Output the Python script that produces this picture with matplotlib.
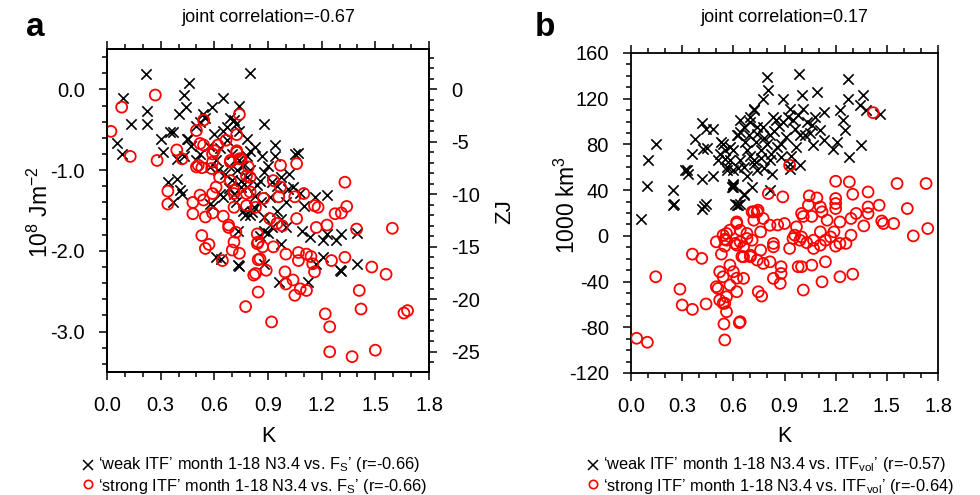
import matplotlib
matplotlib.use("Agg")
import matplotlib.pyplot as plt
from matplotlib.lines import Line2D
from matplotlib.ticker import MultipleLocator, FormatStrFormatter
import numpy as np

plt.rcParams['font.family'] = ['Liberation Sans', 'DejaVu Sans']
plt.rcParams['mathtext.fontset'] = 'custom'
plt.rcParams['mathtext.rm'] = 'Liberation Sans'
plt.rcParams['mathtext.it'] = 'Liberation Sans:italic'
plt.rcParams['axes.unicode_minus'] = False

# ---------------- data ----------------
# panel a : weak ITF (black x) -- K vs F_S (1e8 J m-2)
weak_a = [
    (0.22, 0.19), (0.80, 0.20), (0.46, 0.08), (0.09, -0.11), (0.225, -0.27), (0.225, -0.43),
    (0.134, -0.43), (0.43, -0.07), (0.44, -0.22), (0.40, -0.30), (0.65, -0.11), (0.585, -0.22),
    (0.74, -0.20), (0.535, -0.30), (0.52, -0.40), (0.69, -0.36), (0.054, -0.67), (0.082, -0.80),
    (0.30, -0.62), (0.35, -0.53), (0.37, -0.53), (0.445, -0.61), (0.315, -0.78), (0.39, -0.86),
    (0.34, -1.15), (0.39, -1.11), (0.42, -1.29), (0.37, -1.40), (0.65, -0.51), (0.71, -0.38),
    (0.74, -0.51), (0.67, -0.63), (0.52, -0.80), (0.50, -0.88), (0.61, -0.88), (0.74, -0.88),
    (0.80, -0.76), (0.725, -1.00), (0.78, -1.09), (0.75, -1.21), (0.71, -1.29), (0.575, -1.42),
    (0.82, -1.46), (0.77, -1.56), (0.61, -2.07), (0.74, -2.19), (0.73, -1.75), (0.81, -1.52),
    (0.59, -1.44), (0.88, -0.43), (0.55, -0.36), (0.67, -0.47), (0.72, -0.43), (0.455, -0.61),
    (0.43, -0.82), (0.83, -0.71), (0.78, -0.82), (0.865, -0.82), (0.94, -0.69), (0.94, -0.82),
    (1.05, -0.80), (1.07, -0.79), (0.575, -0.96), (0.75, -1.13), (0.78, -1.21), (0.88, -1.02),
    (0.855, -1.13), (0.92, -1.15), (0.97, -1.09), (1.01, -1.23), (1.04, -1.21), (0.41, -1.25),
    (0.65, -1.33), (0.76, -1.50), (0.80, -1.56), (0.91, -1.33), (0.95, -1.50), (0.97, -1.60),
    (1.00, -1.71), (1.16, -1.33), (1.23, -1.31), (1.09, -1.75), (1.135, -1.83), (1.21, -1.87),
    (1.28, -1.87), (1.31, -1.79), (1.23, -1.79), (0.875, -1.75), (0.855, -1.81), (0.90, -1.78),
    (0.97, -1.91), (0.875, -2.16), (0.735, -2.18), (0.64, -2.10), (1.21, -2.08), (1.30, -2.24),
    (1.31, -2.25), (1.395, -2.16), (1.125, -2.39), (0.96, -2.39), (1.17, -2.16), (1.40, -1.78),
    (0.84, -1.18), (0.70, -1.12), (0.68, -0.95), (0.63, -0.72), (0.90, -0.95), (1.00, -1.40),
    (1.08, -1.28), (0.60, -0.55), (0.57, -0.70), (0.62, -1.00), (0.66, -1.05), (0.70, -0.80),
    (0.76, -0.95), (0.80, -1.00), (0.83, -1.32), (0.86, -1.40), (0.72, -1.40), (0.68, -1.22),
    (0.63, -1.30), (0.95, -1.20), (1.02, -1.05), (1.10, -1.45), (0.88, -1.58), (0.92, -1.70),
    (0.78, -0.62), (0.50, -0.45), (0.47, -0.70),
]
# panel a : strong ITF (red o)
strong_a = [
    (0.022, -0.52), (0.082, -0.22), (0.27, -0.07), (0.13, -0.83), (0.28, -0.88), (0.39, -0.75),
    (0.42, -0.86), (0.54, -0.38), (0.50, -0.51), (0.74, -0.31), (0.725, -0.56), (0.665, -0.63),
    (0.54, -0.69), (0.59, -0.80), (0.62, -0.69), (0.50, -0.96), (0.53, -0.97), (0.585, -0.98),
    (0.69, -0.88), (0.725, -0.78), (0.75, -0.86), (0.63, -1.09), (0.79, -0.96), (0.80, -1.09),
    (0.71, -1.29), (0.78, -1.29), (0.61, -1.21), (0.59, -1.29), (0.52, -1.31), (0.54, -1.37),
    (0.48, -1.40), (0.34, -1.26), (0.34, -1.42), (0.48, -1.54), (0.55, -1.58), (0.59, -1.53),
    (0.65, -1.57), (0.71, -1.46), (0.68, -1.68), (0.53, -1.81), (0.57, -1.92), (0.55, -1.97),
    (0.645, -2.12), (0.68, -1.71), (0.71, -1.89), (0.70, -1.99), (0.74, -2.03), (0.72, -1.77),
    (0.84, -1.79), (0.84, -1.91), (0.845, -2.11), (0.82, -2.30), (0.845, -2.51), (0.775, -2.69),
    (0.52, -0.67), (0.60, -0.76), (0.725, -0.76), (0.51, -0.94), (0.59, -0.90), (0.69, -0.90),
    (0.74, -0.86), (0.97, -0.94), (1.06, -0.92), (0.69, -1.13), (0.78, -1.07), (0.71, -1.25),
    (0.80, -1.27), (0.875, -1.35), (0.93, -1.13), (0.97, -1.21), (0.96, -1.33), (1.05, -1.33),
    (1.10, -1.29), (1.33, -1.15), (0.78, -1.44), (0.83, -1.46), (0.91, -1.60), (0.95, -1.66),
    (0.98, -1.69), (1.06, -1.60), (1.16, -1.44), (1.18, -1.46), (1.275, -1.54), (1.31, -1.53),
    (1.34, -1.45), (1.395, -1.73), (1.23, -1.68), (1.17, -1.71), (0.845, -1.89), (0.87, -1.95),
    (0.93, -1.95), (1.00, -2.04), (1.07, -2.02), (1.07, -2.12), (1.115, -2.04), (1.14, -2.07),
    (1.15, -2.16), (1.16, -2.26), (1.255, -2.12), (1.33, -2.08), (0.855, -2.10), (0.89, -2.24),
    (0.83, -2.28), (0.995, -2.26), (1.04, -2.36), (1.00, -2.41), (1.08, -2.47), (1.115, -2.49),
    (1.05, -2.55), (0.92, -2.88), (1.41, -2.49), (1.42, -2.72), (1.48, -2.20), (1.22, -2.78),
    (1.245, -2.94), (1.245, -3.25), (1.37, -3.31), (1.50, -3.23), (1.595, -1.72), (1.56, -2.29),
    (1.66, -2.77), (1.68, -2.74),
]
# panel b : weak ITF (black x) -- K vs ITF_vol (1000 km3)
weak_b = [
    (0.057, 14.6), (0.096, 43.4), (0.10, 66.1), (0.147, 80.7), (0.244, 40.5), (0.244, 26.8),
    (0.25, 28.0), (0.317, 57.4), (0.336, 54.5), (0.33, 58.0), (0.36, 72.0), (0.375, 85.0),
    (0.415, 98.7), (0.44, 93.8), (0.48, 93.8), (0.424, 76.3), (0.445, 77.0), (0.415, 50.1),
    (0.415, 23.9), (0.44, 28.3), (0.43, 26.0), (0.48, 52.1), (0.53, 82.1), (0.55, 74.9),
    (0.58, 77.7), (0.51, 66.1), (0.56, 60.3), (0.60, 57.4), (0.62, 88.0), (0.64, 90.8),
    (0.67, 82.1), (0.70, 104.0), (0.72, 111.3), (0.74, 95.2), (0.68, 74.9), (0.72, 66.1),
    (0.60, 45.8), (0.60, 43.0), (0.66, 35.5), (0.62, 26.8), (0.64, 27.5), (0.71, 42.8),
    (0.59, 42.8), (0.795, 138.9), (0.985, 141.2), (1.27, 136.9), (1.36, 123.5), (1.09, 125.8),
    (1.00, 123.5), (0.805, 127.3), (0.775, 120.0), (0.89, 120.0), (1.27, 120.0), (1.34, 114.2),
    (1.38, 109.8), (1.46, 106.9), (1.225, 109.8), (1.13, 108.3), (1.01, 111.3), (0.93, 111.3),
    (0.835, 104.0), (0.85, 101.0), (0.72, 109.8), (0.64, 101.0), (0.70, 99.6), (0.775, 95.2),
    (0.89, 99.6), (0.96, 93.8), (1.03, 99.6), (1.06, 97.0), (1.11, 92.3), (1.245, 101.0),
    (1.255, 92.3), (1.205, 82.1), (1.185, 76.3), (1.07, 79.2), (1.13, 83.6), (1.35, 79.2),
    (1.28, 69.0), (0.99, 88.0), (0.91, 86.5), (0.815, 88.0), (0.74, 89.4), (0.63, 88.0),
    (0.54, 80.7), (0.60, 74.9), (0.76, 74.9), (0.855, 77.7), (0.97, 77.7), (0.55, 67.6),
    (0.64, 66.1), (0.72, 63.2), (0.815, 66.1), (0.88, 69.0), (0.99, 61.8), (0.56, 57.4),
    (0.66, 60.3), (0.74, 57.4), (0.825, 54.5), (0.93, 58.9), (0.60, 44.3), (0.66, 37.0),
    (0.815, 39.9), (0.61, 28.3), (0.63, 27.0), (0.93, 63.0), (0.66, 95.0), (0.69, 88.0),
    (0.73, 82.0), (0.78, 86.0), (0.80, 80.0), (0.84, 92.0), (0.87, 96.0), (0.92, 104.0),
    (0.95, 101.0), (0.98, 106.0), (1.02, 88.0), (1.05, 90.0), (1.08, 104.0), (0.70, 70.0),
    (0.76, 68.0), (0.82, 72.0), (0.88, 80.0), (0.94, 70.0), (0.68, 52.0), (0.58, 66.0),
    (0.52, 72.0), (0.63, 59.0), (0.78, 59.0),
]
# panel b : strong ITF (red o)
strong_b = [
    (1.42, 107.8), (0.93, 61.8), (1.20, 47.8), (1.28, 47.2), (1.56, 45.8), (1.73, 45.8),
    (0.805, 37.0), (0.89, 34.1), (1.045, 35.0), (1.09, 33.2), (1.20, 32.7), (1.20, 28.3),
    (1.20, 23.9), (1.30, 36.4), (1.39, 38.4), (1.39, 25.3), (1.39, 19.6), (1.455, 26.8),
    (1.62, 23.9), (1.74, 6.4), (1.655, 0.0), (1.54, 10.8), (1.48, 10.8), (1.47, 13.0),
    (1.365, 8.7), (1.32, 19.6), (1.29, 15.2), (1.225, 12.2), (1.15, 13.7), (1.12, 21.0),
    (1.11, 25.3), (1.04, 26.8), (1.00, 19.6), (1.01, 17.0), (1.06, 17.0), (0.97, 7.9),
    (0.90, 10.8), (0.86, 9.5), (0.815, 9.3), (0.775, 15.2), (0.72, 21.0), (0.745, 22.5),
    (0.72, 13.7), (0.62, 10.8), (0.56, 2.1), (0.61, -6.6), (0.76, 3.5), (0.835, -6.6),
    (0.95, -2.3), (1.00, -1.0), (1.11, 3.5), (1.19, 3.5), (1.07, -3.8), (1.26, -6.6),
    (1.29, 0.6), (1.225, -6.6), (1.20, -9.0), (1.11, -8.1), (1.14, -3.8), (1.17, -0.9),
    (1.07, -11.0), (1.03, -6.0), (0.99, -3.8), (0.96, 0.6), (0.93, -11.0), (0.835, -9.6),
    (0.76, -12.5), (0.71, -3.8), (0.68, -2.3), (0.64, 5.0), (0.58, 5.0), (0.56, -3.8),
    (0.55, -9.0), (0.62, -8.1), (0.66, -18.3), (0.70, -16.9), (0.74, -21.2), (0.775, -24.1),
    (0.815, -22.7), (0.88, -27.0), (0.98, -27.0), (1.00, -27.0), (1.06, -25.6), (1.14, -22.7),
    (0.835, -37.2), (0.88, -32.9), (0.875, -41.6), (1.01, -47.4), (1.12, -40.2), (1.225, -35.8),
    (1.30, -33.5), (0.746, -48.9), (0.766, -52.7), (0.66, -37.2), (0.62, -48.9), (0.56, -53.3),
    (0.55, -59.0), (0.56, -66.4), (0.635, -76.0), (0.545, -77.1), (0.55, -91.1), (0.033, -89.6),
    (0.096, -93.1), (0.145, -35.8), (0.36, -16.0), (0.415, -19.7), (0.287, -46.6), (0.30, -60.5),
    (0.36, -64.3), (0.44, -59.6), (0.50, -5.2), (0.53, -16.0), (0.54, 0.6), (0.55, -3.0),
    (0.50, -44.5), (0.51, -46.0), (0.52, -31.4), (0.54, -35.8), (0.58, -25.6), (0.60, -31.4),
    (0.58, -43.0), (0.62, -37.0), (0.52, -56.2), (0.54, -59.0), (0.64, -75.1), (0.62, 12.2),
    (0.68, 2.1), (0.66, -9.6), (0.65, -18.0), (0.70, -18.3), (0.71, 21.0), (0.74, 21.0),
    (0.64, -5.2),
]

titles = ["joint correlation=-0.67", "joint correlation=0.17"]
panel_letters = ["a", "b"]
legend_a = ["\u2018weak ITF\u2019 month 1-18 N3.4 vs. F$_\\mathrm{S}$\u2019 (r=-0.66)",
            "\u2018strong ITF\u2019 month 1-18 N3.4 vs. F$_\\mathrm{S}$\u2019 (r=-0.66)"]
legend_b = ["\u2018weak ITF\u2019 month 1-18 N3.4 vs. ITF$_\\mathrm{vol}$\u2019 (r=-0.57)",
            "\u2018strong ITF\u2019 month 1-18 N3.4 vs. ITF$_\\mathrm{vol}$\u2019 (r=-0.64)"]
ZJ_PER_UNIT = 7.69   # conversion 1e8 J m-2 -> ZJ

# ---------------- figure ----------------
W, H = 980, 495
fig = plt.figure(figsize=(W / 100, H / 100), dpi=100)


def rect(l, t, r, b):
    return [l / W, 1 - b / H, (r - l) / W, (b - t) / H]


def fpos(x, y):
    return x / W, 1 - y / H


axa = fig.add_axes(rect(107, 49, 429, 372))
axb = fig.add_axes(rect(631, 53, 938, 373))

ms_x = 55
ms_o = 62


def style(ax):
    for s in ax.spines.values():
        s.set_linewidth(1.3)
    ax.tick_params(which='both', direction='out', width=1.1, top=True, right=False,
                   labelsize=14.5, pad=10)
    ax.tick_params(which='major', length=6)
    ax.tick_params(which='minor', length=3.5)
    ax.xaxis.set_major_locator(MultipleLocator(0.3))
    ax.xaxis.set_minor_locator(MultipleLocator(0.1))
    ax.xaxis.set_major_formatter(FormatStrFormatter('%.1f'))
    ax.tick_params(axis='x', pad=11)
    ax.set_xlim(0, 1.8)


for ax, weak, strong in [(axa, weak_a, strong_a), (axb, weak_b, strong_b)]:
    wk = np.array(weak)
    st = np.array(strong)
    ax.scatter(wk[:, 0], wk[:, 1], marker='x', s=ms_x, c='black', linewidths=1.2, zorder=2)
    ax.scatter(st[:, 0], st[:, 1], marker='o', s=ms_o, facecolors='none',
               edgecolors='#ff0000', linewidths=1.3, zorder=3)
    style(ax)

axa.set_ylim(-3.5, 0.5)
axa.yaxis.set_major_locator(MultipleLocator(1.0))
axa.yaxis.set_minor_locator(MultipleLocator(0.2))
axa.yaxis.set_major_formatter(FormatStrFormatter('%.1f'))

axr = axa.twinx()
axr.set_ylim(-3.5 * ZJ_PER_UNIT, 0.5 * ZJ_PER_UNIT)
axr.yaxis.set_major_locator(MultipleLocator(5))
axr.yaxis.set_minor_locator(MultipleLocator(1))
axr.tick_params(which='both', direction='out', width=1.1, labelsize=14.5, pad=10)
axr.tick_params(which='major', length=6)
axr.tick_params(which='minor', length=3.5)
for s in axr.spines.values():
    s.set_linewidth(1.3)

axb.set_ylim(-120, 160)
axb.yaxis.set_major_locator(MultipleLocator(40))
axb.yaxis.set_minor_locator(MultipleLocator(10))
axb.yaxis.set_major_formatter(FormatStrFormatter('%d'))

# ---------------- texts ----------------
fig.text(*fpos(268, 18), titles[0], ha='center', va='center', fontsize=13)
fig.text(*fpos(784, 18), titles[1], ha='center', va='center', fontsize=13)
fig.text(*fpos(35, 28), panel_letters[0], ha='center', va='center', fontsize=24, fontweight='bold')
fig.text(*fpos(545, 28), panel_letters[1], ha='center', va='center', fontsize=24, fontweight='bold')

fig.text(*fpos(40, 212), "10$^{8}$ Jm$^{-2}$", rotation=90, ha='center', va='center', fontsize=16.5)
fig.text(*fpos(505, 212), "ZJ", rotation=90, ha='center', va='center', fontsize=16)
fig.text(*fpos(567, 205), "1000 km$^{3}$", rotation=90, ha='center', va='center', fontsize=16.5)

fig.text(*fpos(268, 437), "K", ha='center', va='center', fontsize=15.5)
fig.text(*fpos(784, 437), "K", ha='center', va='center', fontsize=15.5)

for x0, labels in [(88, legend_a), (593, legend_b)]:
    for i, lab in enumerate(labels):
        y = 465 + 22 * i
        fx, fy = fpos(x0, y)
        if i == 0:
            fig.add_artist(Line2D([fx], [fy], transform=fig.transFigure, marker='x',
                                  ms=7, mew=1.1, color='black', linestyle='none'))
        else:
            fig.add_artist(Line2D([fx], [fy + 0.006], transform=fig.transFigure, marker='o',
                                  ms=6, mew=1.2, mfc='none', mec='#ff0000', linestyle='none'))
        fig.text(*fpos(x0 + 10, y), lab, ha='left', va='center', fontsize=11.8)

fig.savefig("out.png", dpi=100)
